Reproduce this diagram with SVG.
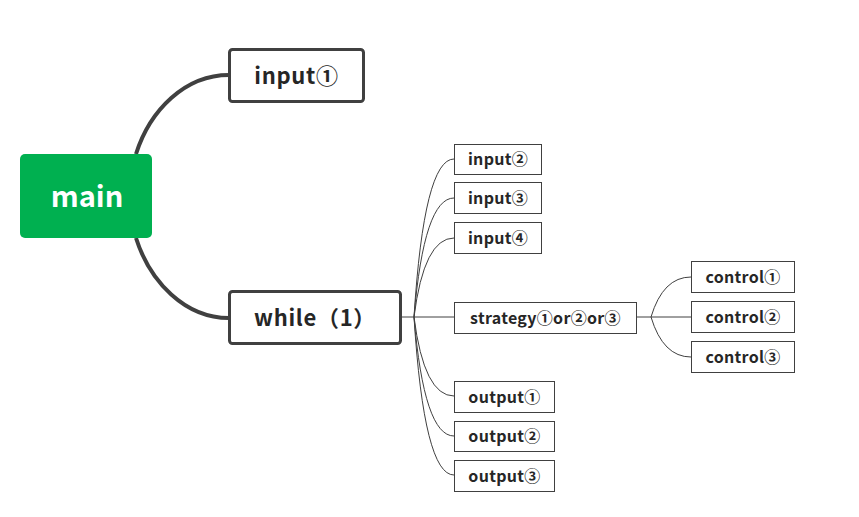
<svg xmlns="http://www.w3.org/2000/svg" width="859" height="517" viewBox="0 0 859 517">
<style>
.t{font-family:"Noto Sans CJK SC","DejaVu Sans",sans-serif;font-weight:bold;fill:#262626;text-anchor:middle}
.big{font-size:22px;letter-spacing:0.7px}
.sm{font-size:16px;letter-spacing:0.3px}
.b1{fill:#fff;stroke:#404040;stroke-width:3}
.b2{fill:#fff;stroke:#404040;stroke-width:1}
.c1{fill:none;stroke:#404040;stroke-width:4}
.c2{fill:none;stroke:#404040;stroke-width:1}
</style>
<g id="connectors">
<path class="c1" d="M136,154 C150,110 185,75 229,75"/>
<path class="c1" d="M136,238 C150,282 185,318 229,318"/>
<path class="c2" d="M401,317 H414"/>
<path class="c2" d="M414,317 Q424,159 454,159"/>
<path class="c2" d="M414,317 Q424,198 454,198"/>
<path class="c2" d="M414,317 Q424,238 454,238"/>
<path class="c2" d="M414,317 H454"/>
<path class="c2" d="M414,317 Q424,396 454,396"/>
<path class="c2" d="M414,317 Q424,436 454,436"/>
<path class="c2" d="M414,317 Q424,475 454,475"/>
<path class="c2" d="M637,317 H651"/>
<path class="c2" d="M651,317 Q663,277 691,277"/>
<path class="c2" d="M651,317 H691"/>
<path class="c2" d="M651,317 Q663,357 691,357"/>
</g>
<g id="main">
<rect x="20" y="154" width="132" height="84" rx="5" fill="#00B050"/>
<text x="87" y="207" style="font-family:'Noto Sans CJK SC','DejaVu Sans',sans-serif;font-weight:bold;font-size:29px;fill:#fff;text-anchor:middle">main</text>
</g>
<g id="input1">
<rect class="b1" x="229.5" y="49.5" width="134" height="52" rx="3"/>
<text class="t big" x="296.5" y="84">input①</text>
</g>
<g id="while1">
<rect class="b1" x="229.5" y="291.5" width="171" height="52" rx="3"/>
<text class="t big" x="315" y="326">while（1）</text>
</g>
<g id="input2">
<rect class="b2" x="454.5" y="144.5" width="87" height="30"/>
<text class="t sm" x="498" y="165">input②</text>
</g>
<g id="input3">
<rect class="b2" x="454.5" y="182.5" width="87" height="31"/>
<text class="t sm" x="498" y="204">input③</text>
</g>
<g id="input4">
<rect class="b2" x="454.5" y="222.5" width="87" height="31"/>
<text class="t sm" x="498" y="244">input④</text>
</g>
<g id="strategy">
<rect class="b2" x="454.5" y="302.5" width="182" height="31"/>
<text class="t sm" x="545.5" y="324">strategy①or②or③</text>
</g>
<g id="output1">
<rect class="b2" x="454.5" y="381.5" width="100" height="31"/>
<text class="t sm" x="504.5" y="403">output①</text>
</g>
<g id="output2">
<rect class="b2" x="454.5" y="421.5" width="100" height="30"/>
<text class="t sm" x="504.5" y="442">output②</text>
</g>
<g id="output3">
<rect class="b2" x="454.5" y="460.5" width="100" height="31"/>
<text class="t sm" x="504.5" y="482">output③</text>
</g>
<g id="control1">
<rect class="b2" x="691.5" y="261.5" width="103" height="31"/>
<text class="t sm" x="743" y="283">control①</text>
</g>
<g id="control2">
<rect class="b2" x="691.5" y="301.5" width="103" height="31"/>
<text class="t sm" x="743" y="323">control②</text>
</g>
<g id="control3">
<rect class="b2" x="691.5" y="341.5" width="103" height="31"/>
<text class="t sm" x="743" y="363">control③</text>
</g>
</svg>
